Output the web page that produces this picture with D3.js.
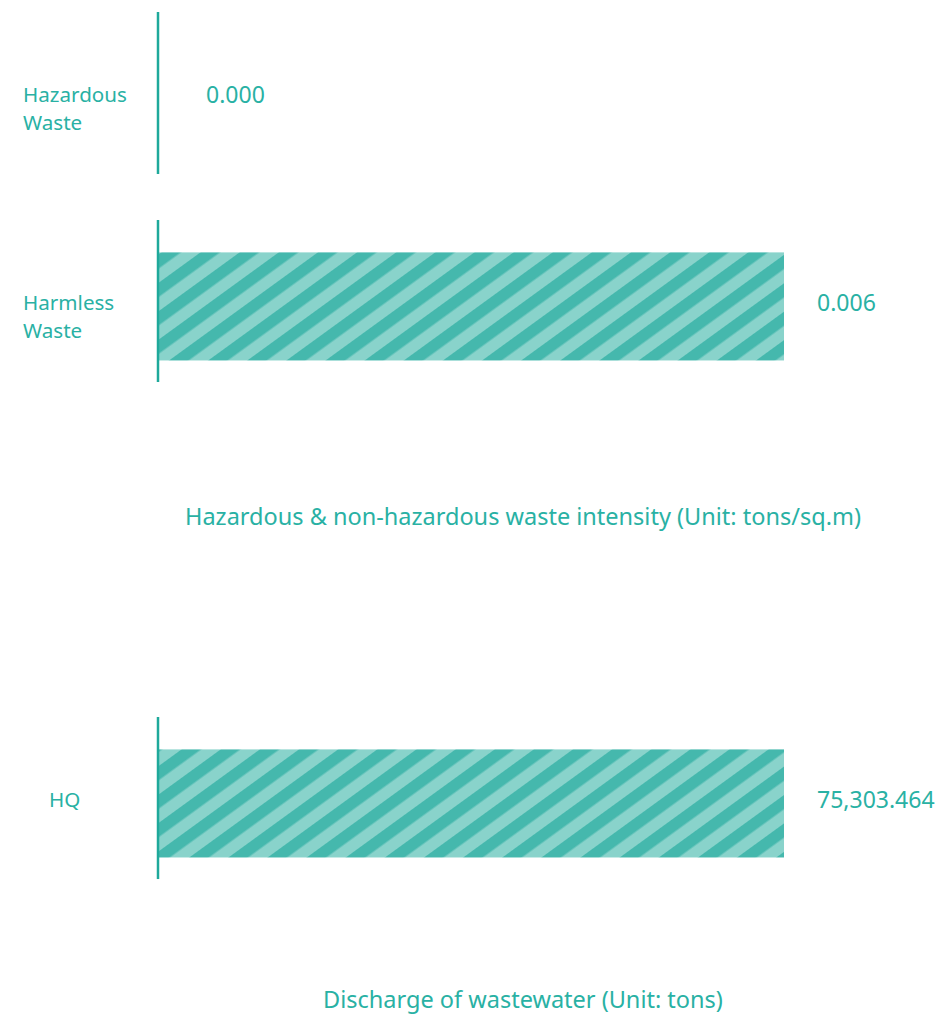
<!DOCTYPE html>
<html>
<head>
    <meta charset="utf-8">
    <title>Waste and wastewater</title>
    <script src="https://cdn.jsdelivr.net/npm/d3@7"></script>
    <style>
        body {
            margin: 0;
            background: #fff;
        }

        text {
            font-family: "Noto Sans", Lato, sans-serif;
            fill: #29b1a4;
        }

        .axis-line {
            stroke: #1ea99b;
            stroke-width: 2.5px;
        }
    </style>
</head>
<body>
<script>
    // waste intensity (tons/sq.m)
    var wasteCats = [["Hazardous", "Waste"], ["Harmless", "Waste"]];
    var wasteValues = [0.000, 0.006];
    var wasteLabels = ["0.000", "0.006"];
    var wasteTitle = "Hazardous & non-hazardous waste intensity (Unit: tons/sq.m)";

    // wastewater discharge (tons)
    var waterCats = [["HQ"]];
    var waterValues = [75303.464];
    var waterLabels = ["75,303.464"];
    var waterTitle = "Discharge of wastewater (Unit: tons)";

    var width = 941,
        height = 1018,
        x0 = 158,
        x1 = 784,
        step = 208;

    var svg = d3.select("body").append("svg")
        .attr("width", width)
        .attr("height", height);

    var defs = svg.append("defs");
    var pat = defs.append("pattern")
        .attr("id", "stripes")
        .attr("patternUnits", "userSpaceOnUse")
        .attr("width", 23)
        .attr("height", 23)
        .attr("patternTransform", "rotate(-36)");
    pat.append("rect").attr("width", 23).attr("height", 23).attr("fill", "#89d3cb");
    pat.append("rect").attr("width", 23).attr("height", 11.5).attr("fill", "#45b8ad");

    function drawChart(cats, values, labels, title, top, titleY, maxVal, labelX) {
        var g = svg.append("g");
        var keys = cats.map(function (d) { return d.join(" "); });
        var n = keys.length;

        var x = d3.scaleLinear().domain([0, maxVal]).range([x0, x1]);
        var y = d3.scaleBand().domain(keys)
            .range([top, top + Math.max(step * n - 46, step)])
            .paddingInner(0.221).paddingOuter(0).align(0);
        var bw = y.bandwidth();

        var rows = g.selectAll(".row")
            .data(keys)
            .enter().append("g")
            .attr("class", "row");

        rows.append("rect")
            .attr("x", x(0))
            .attr("y", function (d) { return y(d) + bw * 0.2; })
            .attr("height", bw * 0.667)
            .attr("width", function (d, i) { return x(values[i]) - x(0); })
            .attr("fill", "url(#stripes)");

        rows.append("line")
            .attr("class", "axis-line")
            .attr("x1", x(0)).attr("x2", x(0))
            .attr("y1", function (d) { return y(d); })
            .attr("y2", function (d) { return y(d) + bw; });

        rows.append("text")
            .attr("x", labelX)
            .attr("y", function (d) { return y(d) + bw / 2 + 1.5; })
            .style("font-size", "20.6px")
            .selectAll("tspan")
            .data(function (d, i) { return cats[i]; })
            .enter().append("tspan")
            .attr("x", labelX)
            .attr("dy", function (d, j) { return j === 0 ? "0.35em" : "1.36em"; })
            .text(function (d) { return d; });

        rows.append("text")
            .attr("x", function (d, i) { return Math.max(x(values[i]), x(0) + 15) + 33; })
            .attr("y", function (d) { return y(d) + bw / 2 + 2; })
            .attr("dy", "0.35em")
            .style("font-size", "23px")
            .text(function (d, i) { return labels[i]; });

        g.append("text")
            .attr("x", (x0 + x1) / 2 + 52)
            .attr("y", titleY)
            .attr("dy", "0.35em")
            .attr("text-anchor", "middle")
            .style("font-size", "23.5px")
            .text(title);
    }

    drawChart(wasteCats, wasteValues, wasteLabels, wasteTitle, 12, 517, 0.006, 23);
    drawChart(waterCats, waterValues, waterLabels, waterTitle, 717, 1000, 75303.464, 49);
</script>
</body>
</html>
